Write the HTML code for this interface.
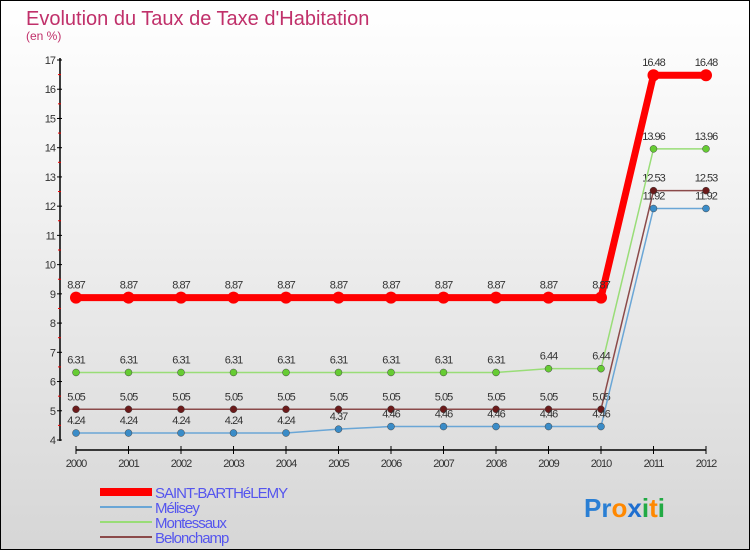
<!DOCTYPE html>
<html><head><meta charset="utf-8"><style>
body{margin:0}
#c{width:750px;height:550px;position:relative;box-sizing:border-box;border:1px solid #000;background:linear-gradient(#ffffff,#f4f4f4 30%,#d6d6d6);font-family:"Liberation Sans",sans-serif;overflow:hidden}
</style></head><body>
<div id="c">
<svg id="s" width="750" height="550" style="position:absolute;left:-1px;top:-1px">
<text x="26" y="25" font-size="20" fill="#c0306a">Evolution du Taux de Taxe d'Habitation</text>
<text x="26" y="40" font-size="12" fill="#c0306a">(en %)</text>
</svg>
</div>
<script>
const years=[2000,2001,2002,2003,2004,2005,2006,2007,2008,2009,2010,2011,2012];
const yTicks=[4,5,6,7,8,9,10,11,12,13,14,15,16,17];
const stBarth=[8.87,8.87,8.87,8.87,8.87,8.87,8.87,8.87,8.87,8.87,8.87,16.48,16.48];
const melisey=[4.24,4.24,4.24,4.24,4.24,4.37,4.46,4.46,4.46,4.46,4.46,11.92,11.92];
const montessaux=[6.31,6.31,6.31,6.31,6.31,6.31,6.31,6.31,6.31,6.44,6.44,13.96,13.96];
const belonchamp=[5.05,5.05,5.05,5.05,5.05,5.05,5.05,5.05,5.05,5.05,5.05,12.53,12.53];
const names=["SAINT-BARTHéLEMY","Mélisey","Montessaux","Belonchamp"];
const s=document.getElementById('s');const NS='http://www.w3.org/2000/svg';
function X(i){return 76+i*52.5}
function Y(v){return 440-(v-4)*380/13}
function el(t,a,p){const e=document.createElementNS(NS,t);for(const k in a)e.setAttribute(k,a[k]);(p||s).appendChild(e);return e}
// axes
let ax=el('line',{x1:60,y1:58,x2:60,y2:441,stroke:'#000','stroke-width':1.5});


yTicks.forEach(v=>{
 el('line',{x1:57,x2:62,y1:Y(v),y2:Y(v),stroke:'#000'});
 if(v<17){el('line',{x1:58,x2:61,y1:Y(v+0.5),y2:Y(v+0.5),stroke:'#e00'});}
 const t=el('text',{x:55,y:Y(v)+4,'text-anchor':'end','font-size':11,fill:'#333','letter-spacing':'-1'});t.textContent=v;
 
 
});
let xa=el('line',{x1:76,y1:450,x2:706,y2:450,stroke:'#000','stroke-width':1.5});


years.forEach((y,i)=>{
 el('line',{x1:X(i),x2:X(i),y1:446,y2:454,stroke:'#000'});
 const t=el('text',{x:X(i),y:467,'text-anchor':'middle','font-size':11,fill:'#333','letter-spacing':'-1'});t.textContent=y;
 
 
});
const series=[
 {d:belonchamp,c:'#8b4a4a',w:1.5,r:3.5,f:'#6b1a1a',n:'belonchamp'},
 {d:melisey,c:'#6aa6d6',w:1.5,r:3.5,f:'#3a8cc8',n:'melisey'},
 {d:montessaux,c:'#99dd77',w:1.5,r:3.5,f:'#66cc33',n:'montessaux'},
 {d:stBarth,c:'#ff0000',w:7,r:6,f:'#ff0000',n:'saint-barthelemy'}];
series.forEach(se=>{
 const g=el('g',{});
 
 
 el('polyline',{points:se.d.map((v,i)=>X(i)+','+Y(v)).join(' '),fill:'none',stroke:se.c,'stroke-width':se.w},g);
 se.d.forEach((v,i)=>{
  const c=el('circle',{cx:X(i),cy:Y(v),r:se.r,fill:se.f,stroke:'#444','stroke-width':se.n=='saint-barthelemy'?0:0.5},g);
  
  
  const t=el('text',{x:X(i),y:Y(v)-9,'text-anchor':'middle','font-size':11,fill:'#333','letter-spacing':'-1'},g);t.textContent=v;
  
  
 });
});
// legend
const lc=['#ff0000','#6aa6d6','#99dd77','#8b4a4a'],lw=[8,2,2,2];
names.forEach((n,i)=>{
 const y=492+i*15;
 const g=el('g',{});
 
 
 el('line',{x1:100,x2:152,y1:y,y2:y,stroke:lc[i],'stroke-width':lw[i]},g);
 const t=el('text',{x:155,y:y+6,'font-size':15,fill:'#5555ee','letter-spacing':'-1'},g);t.textContent=n;
});
// logo
const lg=el('text',{x:584,y:517,'font-size':26,'font-weight':'bold'});


[['P','#2a7fd4'],['r','#2a7fd4'],['o','#ff8800'],['x','#1f6fd0'],['i','#22aa44'],['t','#ff8800'],['i','#22aa44']].forEach(([ch,c])=>{const sp=el('tspan',{fill:c},lg);sp.textContent=ch;});
</script>
</body></html>
